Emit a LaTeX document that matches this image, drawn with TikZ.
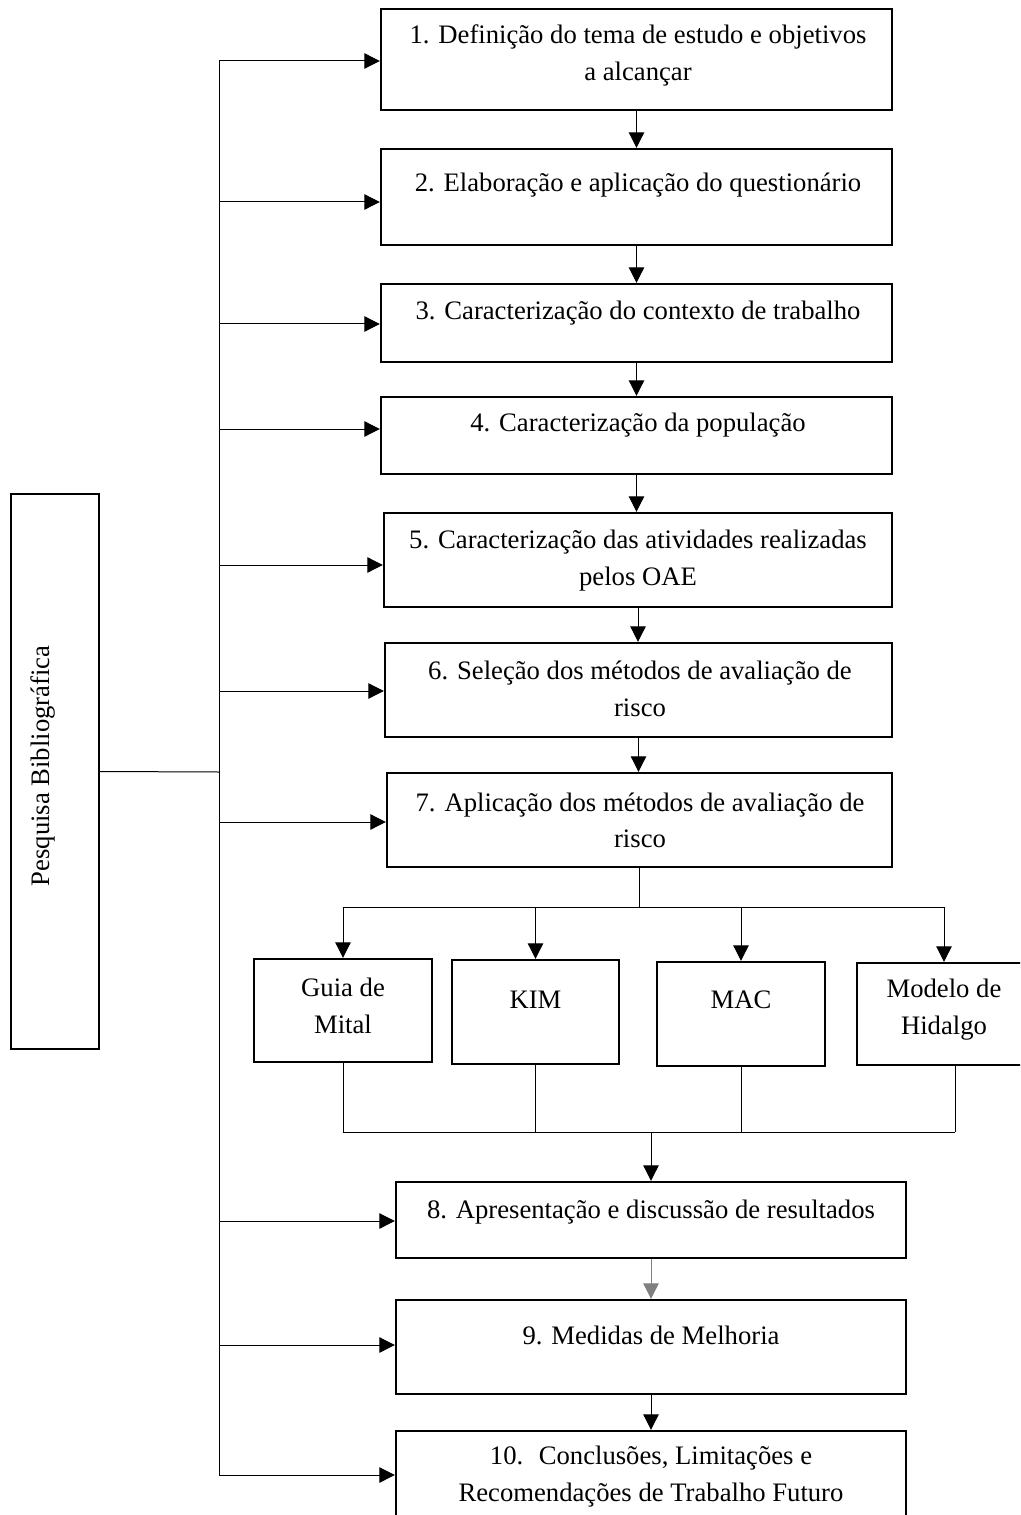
\documentclass[tikz,border=0pt]{standalone}
\usepackage{fontspec}
\setmainfont{Liberation Serif}
\usetikzlibrary{arrows.meta}

\tikzset{
    stage/.style={rectangle, draw=black, line width=1.8pt, inner sep=0pt},
    txt/.style={align=center, inner sep=0pt},
    link/.style={-{Triangle[length=11.5pt,width=11.5pt]}, line width=0.75pt, draw=black},
    wire/.style={line width=0.75pt, draw=black}
}

\begin{document}
\begin{tikzpicture}[
    x=0.75pt, y=-0.75pt,
    every node/.style={font=\fontsize{20}{27.5}\selectfont}
]

\useasboundingbox (0,0) rectangle (1020,1515);
\clip (0,0) rectangle (1020,1515);

% left box
\node[stage, minimum width=66pt, minimum height=416.25pt] (pesq) at (55,771.5) {};
\node[txt, rotate=90] (pesqtxt) at (43,766) {Pesquisa Bibliográfica};

% main stages
\node[stage, minimum width=383.25pt, minimum height=75.75pt] (s1) at (636.5,59.5) {};
\node[stage, minimum width=383.25pt, minimum height=72pt] (s2) at (636.5,197) {};
\node[stage, minimum width=383.25pt, minimum height=58.5pt] (s3) at (636.5,323) {};
\node[stage, minimum width=383.25pt, minimum height=57.75pt] (s4) at (636.5,435.5) {};
\node[stage, minimum width=381pt, minimum height=70.5pt] (s5) at (638,560) {};
\node[stage, minimum width=380.25pt, minimum height=70.5pt] (s6) at (638.5,690) {};
\node[stage, minimum width=378.75pt, minimum height=70.5pt] (s7) at (639.5,820) {};
\node[stage, minimum width=382.5pt, minimum height=57pt] (s8) at (651,1220) {};
\node[stage, minimum width=382.5pt, minimum height=70.5pt] (s9) at (651,1347) {};
\node[stage, minimum width=382.5pt, minimum height=70.5pt] (s10) at (651,1478) {};

\node[txt] (t1) at (638,55.5) {1. Definição do tema de estudo e objetivos\\a alcançar};
\node[txt] (t2) at (638,185) {2. Elaboração e aplicação do questionário};
\node[txt] (t3) at (638,313) {3. Caracterização do contexto de trabalho};
\node[txt] (t4) at (638,425) {4. Caracterização da população};
\node[txt] (t5) at (638,560.5) {5. Caracterização das atividades realizadas\\pelos OAE};
\node[txt] (t6) at (640,689) {6. Seleção dos métodos de avaliação de\\risco};
\node[txt] (t7) at (640,820.5) {7. Aplicação dos métodos de avaliação de\\risco};
\node[txt] (t8) at (651,1212) {8. Apresentação e discussão de resultados};
\node[txt] (t9) at (651,1335) {9. Medidas de Melhoria};
\node[txt] (t10) at (651,1476.5) {10.~ Conclusões, Limitações e\\Recomendações de Trabalho Futuro};

% methods
\node[stage, minimum width=133.5pt, minimum height=77.25pt] (guia) at (343,1010.5) {};
\node[stage, minimum width=125.25pt, minimum height=78pt] (kim) at (535.5,1012) {};
\node[stage, minimum width=126pt, minimum height=78pt] (mac) at (741,1014) {};
\node[stage, minimum width=141pt, minimum height=76.5pt] (hidalgo) at (951,1014) {};

\node[txt] (tguia) at (343,1006) {Guia de\\Mital};
\node[txt] (tkim) at (535.5,1000) {KIM};
\node[txt] (tmac) at (741,1000) {MAC};
\node[txt] (thidalgo) at (944,1009.5) {Modelo de\\Hidalgo};

% spine from the left box
\coordinate (top) at (219,61);
\coordinate (mid) at (219,772);
\coordinate (bot) at (219,1475);
\draw[wire] (top) -- (bot);
\draw[wire] (pesq.east) -- (mid);

\coordinate (a1) at (219,61);
\coordinate (a2) at (219,202);
\coordinate (a3) at (219,324);
\coordinate (a4) at (219,429);
\coordinate (a5) at (219,565);
\coordinate (a6) at (219,691);
\coordinate (a7) at (219,822);
\coordinate (a8) at (219,1221);
\coordinate (a9) at (219,1345);
\coordinate (a10) at (219,1475);

\draw[link] (a1) -- (a1 -| s1.west);
\draw[link] (a2) -- (a2 -| s2.west);
\draw[link] (a3) -- (a3 -| s3.west);
\draw[link] (a4) -- (a4 -| s4.west);
\draw[link] (a5) -- (a5 -| s5.west);
\draw[link] (a6) -- (a6 -| s6.west);
\draw[link] (a7) -- (a7 -| s7.west);
\draw[link] (a8) -- (a8 -| s8.west);
\draw[link] (a9) -- (a9 -| s9.west);
\draw[link] (a10) -- (a10 -| s10.west);

% sequence
\draw[link] (s1.south) -- (s1.south |- s2.north);
\draw[link] (s2.south) -- (s2.south |- s3.north);
\draw[link] (s3.south) -- (s3.south |- s4.north);
\draw[link] (s4.south) -- (s4.south |- s5.north);
\draw[link] (s5.south) -- (s5.south |- s6.north);
\draw[link] (s6.south) -- (s6.south |- s7.north);
\draw[link, draw=black!50] (s8.south) -- (s8.south |- s9.north);
\draw[link] (s9.south) -- (s9.south |- s10.north);

% fork to the methods
\coordinate (fork) at (640,907);
\coordinate (hin) at (944,907);
\draw[wire] (s7.south) -- (s7.south |- fork);
\draw[wire] (guia.north |- fork) -- (hin);
\draw[link] (guia.north |- fork) -- (guia.north);
\draw[link] (kim.north |- fork) -- (kim.north);
\draw[link] (mac.north |- fork) -- (mac.north);
\draw[link] (hin) -- (hin |- hidalgo.north);

% join back
\coordinate (join) at (651,1132);
\coordinate (hout) at (955,1066);
\draw[wire] (guia.south) -- (guia.south |- join);
\draw[wire] (kim.south) -- (kim.south |- join);
\draw[wire] (mac.south) -- (mac.south |- join);
\draw[wire] (hout) -- (hout |- join);
\draw[wire] (guia.south |- join) -- (hout |- join);
\draw[link] (join) -- (s8.north);

\end{tikzpicture}
\end{document}
